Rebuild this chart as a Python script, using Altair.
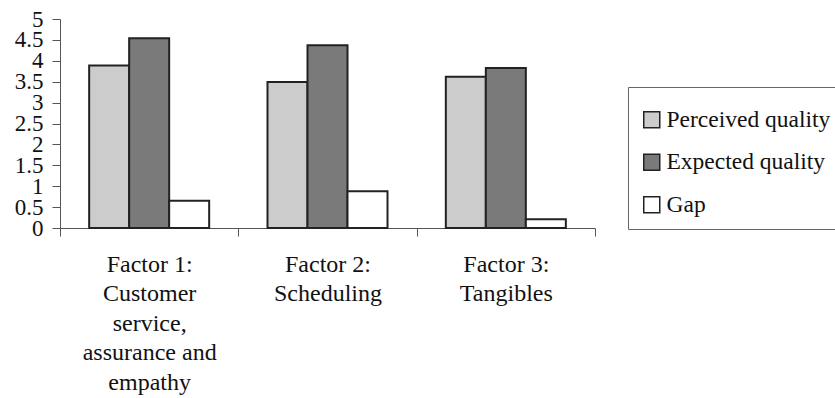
import altair as alt
import pandas as pd

categories = [
    "Factor 1:|Customer|service,|assurance and|empathy",
    "Factor 2:|Scheduling",
    "Factor 3:|Tangibles",
]
series = ["Perceived quality", "Expected quality", "Gap"]
perceived = [3.89, 3.49, 3.62]
expected = [4.54, 4.37, 3.83]
gap = [0.65, 0.88, 0.21]
colors = ["#cccccc", "#7a7a7a", "#ffffff"]
y_ticks = [0, 0.5, 1, 1.5, 2, 2.5, 3, 3.5, 4, 4.5, 5]

rows = []
for s, vals in zip(series, [perceived, expected, gap]):
    for c, v in zip(categories, vals):
        rows.append({"factor": c, "series": s, "value": v})
df = pd.DataFrame(rows)

FONT = "Liberation Serif"

chart = (
    alt.Chart(df)
    .mark_bar(stroke="#222222", strokeWidth=2)
    .encode(
        x=alt.X(
            "factor:N",
            sort=categories,
            title=None,
            scale=alt.Scale(paddingInner=0, paddingOuter=0),
            axis=alt.Axis(
                tickBand="extent",
                labelAngle=0,
                labelExpr="split(datum.label, '|')",
                labelFont=FONT,
                labelFontSize=24,
                labelLineHeight=29.5,
                labelColor="#111111",
                labelPadding=16,
                labelLimit=400,
                labelOverlap=False,
                tickSize=8,
                tickColor="#555555",
                domainColor="#555555",
                grid=False,
            ),
        ),
        xOffset=alt.XOffset(
            "series:N",
            sort=series,
            scale=alt.Scale(paddingInner=0, paddingOuter=0.729),
        ),
        y=alt.Y(
            "value:Q",
            title=None,
            scale=alt.Scale(domain=[0, 5], nice=False),
            axis=alt.Axis(
                values=y_ticks,
                format="~g",
                labelFont=FONT,
                labelFontSize=23,
                labelColor="#111111",
                labelPadding=9,
                labelOverlap=False,
                labelFlush=False,
                tickSize=8,
                tickColor="#555555",
                domainColor="#555555",
                grid=False,
            ),
        ),
        color=alt.Color(
            "series:N",
            sort=series,
            scale=alt.Scale(domain=series, range=colors),
            legend=alt.Legend(
                title=" ",
                titleFontSize=9,
                titlePadding=0,
                orient="none",
                legendX=568,
                legendY=68,
                labelFont=FONT,
                labelFontSize=23.5,
                labelColor="#111111",
                labelOffset=3,
                symbolType="square",
                symbolSize=256,
                symbolStrokeColor="#222222",
                symbolStrokeWidth=1.5,
                strokeColor="#666666",
                fillColor="#ffffff",
                padding=12,
                rowPadding=17.5,
                labelLimit=400,
            ),
        ),
    )
    .properties(
        width=535,
        height=209,
        autosize=alt.AutoSizeParams(type="none"),
        padding={"left": 60, "top": 19, "right": 240, "bottom": 170},
    )
    .configure_view(stroke=None)
)

chart.save("out.html", embed_options={"renderer": "svg", "actions": False})
